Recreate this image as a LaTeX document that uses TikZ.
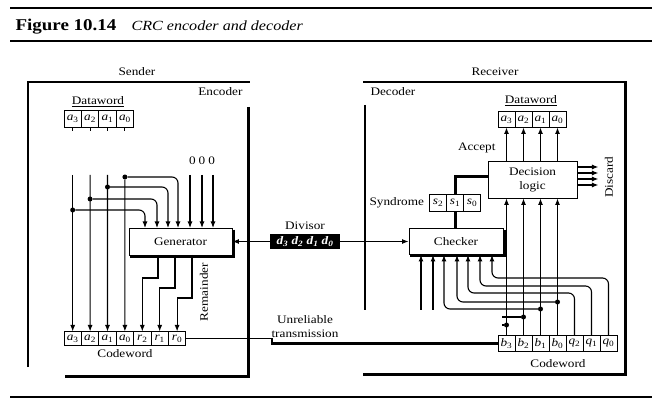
\documentclass[tikz,border=0pt]{standalone}
\usepackage{fontspec}
\setmainfont{Liberation Serif}[FakeStretch=1.15]
\usetikzlibrary{arrows.meta,positioning}
\newcommand{\cw}[2]{\textit{#1}\textsubscript{#2}}

\begin{document}
\begin{tikzpicture}[x=1pt,y=-1pt,font=\fontsize{11.5}{14}\selectfont,
  cell/.style={draw,line width=.8pt,minimum width=17pt,minimum height=16pt,inner sep=0pt,outer sep=0pt},
  unit/.style={draw,line width=.9pt,fill=white,align=center},
  drop/.style={line width=2.2pt},
  arr/.style={-{Latex[length=6.5pt,width=5pt]},line width=1.1pt},
  wire/.style={line width=1.1pt},
  heavy/.style={line width=3pt},
  rule/.style={line width=1.2pt},
  dot/.style={circle,fill,inner sep=0pt,minimum size=5pt}]
\useasboundingbox[fill=white] (0,0) rectangle (664,403);
% title and rules
\node[anchor=base west,font=\fontsize{16.5}{19}\selectfont\bfseries] (fig) at (12,31) {Figure 10.14};
\node[anchor=base west,font=\fontsize{14}{17}\selectfont\itshape] (cap) at (128,31) {CRC encoder and decoder};
\draw[rule] (10,8) -- (652,8);
\draw[rule] (10,41) -- (652,41);
\draw[rule] (10,397) -- (652,397);

% sender side
\node (sender) at (137,72) {Sender};
\node[anchor=east] (encoder) at (246,92) {Encoder};
\draw[wire] (28,367) -- (28,82) -- (250,82);
\draw[heavy] (248,107) -- (248,376) -- (65,376);

\node (sdw) at (98,102) {\underline{Dataword}};
\node[cell,minimum width=17.4pt,minimum height=17pt] (da3) at (72.7,119) {\cw{a}{3}};
\node[cell,minimum width=17.4pt,minimum height=17pt,right=0pt of da3] (da2) {\cw{a}{2}};
\node[cell,minimum width=17.4pt,minimum height=17pt,right=0pt of da2] (da1) {\cw{a}{1}};
\node[cell,minimum width=17.4pt,minimum height=17pt,right=0pt of da1] (da0) {\cw{a}{0}};
\foreach \c in {da3,da2,da1,da0} \draw[wire] (\c.south) -- ++(0,4);

\node[unit,minimum width=103pt,minimum height=27pt] (gen) at (180.5,241.5) {Generator};
\draw[drop] ([xshift=1pt,yshift=-2pt]gen.north east) -- ([xshift=1pt,yshift=-1pt]gen.south east) -- ([xshift=1pt,yshift=-1pt]gen.south west);

\node[cell,minimum width=17.4pt,minimum height=14pt] (ca3) at (72.7,338.5) {\cw{a}{3}};
\node[cell,minimum width=17.4pt,minimum height=14pt,right=0pt of ca3] (ca2) {\cw{a}{2}};
\node[cell,minimum width=17.4pt,minimum height=14pt,right=0pt of ca2] (ca1) {\cw{a}{1}};
\node[cell,minimum width=17.4pt,minimum height=14pt,right=0pt of ca1] (ca0) {\cw{a}{0}};
\node[cell,minimum width=17.4pt,minimum height=14pt,right=0pt of ca0] (cr2) {\cw{r}{2}};
\node[cell,minimum width=17.4pt,minimum height=14pt,right=0pt of cr2] (cr1) {\cw{r}{1}};
\node[cell,minimum width=17.4pt,minimum height=14pt,right=0pt of cr1] (cr0) {\cw{r}{0}};
\node (scw) at (125,354) {Codeword};

% dataword bits into codeword and generator
\coordinate (ta3) at (72.7,175);
\coordinate (ta2) at (90.1,175);
\coordinate (ta1) at (107.5,175);
\node[dot] (ja0) at (124.9,177) {};
\node[dot] (ja1) at (107.5,187) {};
\node[dot] (ja2) at (90.1,199) {};
\node[dot] (ja3) at (72.7,210) {};
\draw[arr] (ta3) -- (ca3);
\draw[arr] (ta2) -- (ca2);
\draw[arr] (ta1) -- (ca1);
\draw[arr] (ja0) -- (ca0);
\coordinate (gi1) at (145,228);
\coordinate (gi2) at (157,228);
\coordinate (gi3) at (168,228);
\coordinate (gi4) at (178,228);
\coordinate (gi5) at (190,228);
\coordinate (gi6) at (202,228);
\coordinate (gi7) at (213,228);
\draw[arr,rounded corners=6pt] (ja3) -| (gi1);
\draw[arr,rounded corners=6pt] (ja2) -| (gi2);
\draw[arr,rounded corners=6pt] (ja1) -| (gi3);
\draw[arr,rounded corners=6pt] (ja0) -| (gi4);
\node (zeros) at (202,161) {0\hspace{3pt}0\hspace{3pt}0};
\draw[arr] (gi5 |- ta3) -- (gi5);
\draw[arr] (gi6 |- ta3) -- (gi6);
\draw[arr] (gi7 |- ta3) -- (gi7);

% remainder
\coordinate (go1) at (158,255);
\coordinate (go2) at (175,255);
\coordinate (go3) at (192,255);
\draw[arr] (go1) -- ++(0,23) -| (cr2);
\draw[arr] (go2) -- ++(0,33) -| (cr1);
\draw[arr] (go3) -- ++(0,43) -| (cr0);
\node[rotate=90] (rem) at (204,292) {Remainder};

% divisor and channel
\node[fill=black,text=white,font=\fontsize{11.5}{14}\selectfont\bfseries\itshape,minimum width=70pt,minimum height=15pt,inner sep=1pt] (div) at (305,241.5) {\cw{d}{3} \cw{d}{2} \cw{d}{1} \cw{d}{0}};
\node[above=1pt of div] (divl) {Divisor};
\node[align=center] (unrel) at (305,327) {Unreliable\\transmission};

% receiver side
\node (receiver) at (495,72) {Receiver};
\node[anchor=west] (decoder) at (367,92) {Decoder};
\draw[wire] (363,82) -- (627,82);
\draw[wire] (365,105) -- (365,310);
\draw[heavy] (625,82) -- (625,374) -- (363,374);

\node[unit,minimum width=94pt,minimum height=26pt] (chk) at (456,241.5) {Checker};
\draw[drop] ([xshift=1pt,yshift=-2pt]chk.north east) -- ([xshift=1pt,yshift=-1pt]chk.south east) -- ([xshift=1pt,yshift=-1pt]chk.south west);
\node[unit,minimum width=89pt,minimum height=37pt] (dec) at (532.5,179.5) {Decision\\logic};

\node (rdw) at (531,101) {\underline{Dataword}};
\node[cell] (ra3) at (506.5,119.5) {\cw{a}{3}};
\node[cell,right=0pt of ra3] (ra2) {\cw{a}{2}};
\node[cell,right=0pt of ra2] (ra1) {\cw{a}{1}};
\node[cell,right=0pt of ra1] (ra0) {\cw{a}{0}};
\node[anchor=east] (acc) at (499,148) {Accept};

\node[cell,minimum height=17pt] (ss2) at (438,202.5) {\cw{s}{2}};
\node[cell,minimum height=17pt,right=0pt of ss2] (ss1) {\cw{s}{1}};
\node[cell,minimum height=17pt,right=0pt of ss1] (ss0) {\cw{s}{0}};
\node[left=2pt of ss2] (synd) {Syndrome};

\node[cell] (cb3) at (506.5,343.5) {\cw{b}{3}};
\node[cell,right=0pt of cb3] (cb2) {\cw{b}{2}};
\node[cell,right=0pt of cb2] (cb1) {\cw{b}{1}};
\node[cell,right=0pt of cb1] (cb0) {\cw{b}{0}};
\node[cell,right=0pt of cb0] (cq2) {\cw{q}{2}};
\node[cell,right=0pt of cq2] (cq1) {\cw{q}{1}};
\node[cell,right=0pt of cq1] (cq0) {\cw{q}{0}};
\node (rcw) at (558,364) {Codeword};

% connections
\draw[arr] (div) -- (gen);
\draw[arr] (div) -- (chk);
\coordinate (tx) at (272,338.5);
\draw[wire] (cr0) -- (tx);
\draw[line width=2.5pt] (tx) |- (cb3);

\draw[heavy] (chk.north -| ss1) -- (ss1);
\draw[heavy] (ss1) |- ([yshift=3pt]dec.west);

\foreach \c in {ra3,ra2,ra1,ra0} \draw[arr] (dec.north -| \c) -- (\c);
\draw[arr] ([yshift=12.5pt]dec.east) -- ++(21,0);
\draw[arr] ([yshift=6.5pt]dec.east) -- ++(21,0);
\draw[arr] ([yshift=0.5pt]dec.east) -- ++(21,0);
\draw[arr] ([yshift=-5.5pt]dec.east) -- ++(21,0);
\node[rotate=90] (disc) at (609,177) {Discard};

\foreach \c in {cb3,cb2,cb1,cb0} \draw[arr] (\c) -- (\c |- dec.south);
\node[dot] (jb3) at (506.5,325) {};
\node[dot] (jb2) at (523.5,317) {};
\node[dot] (jb1) at (540.5,309) {};
\node[dot] (jb0) at (557.5,302) {};
\coordinate (ci1) at (421,255);
\coordinate (ci2) at (433,255);
\coordinate (ci3) at (444,255);
\coordinate (ci4) at (457,255);
\coordinate (ci5) at (468,255);
\coordinate (ci6) at (480,255);
\coordinate (ci7) at (492,255);
\coordinate (li1) at (421,310);
\coordinate (li2) at (433,310);
\coordinate (sb3) at (502,325);
\coordinate (sb2) at (502,317);
\coordinate (hq2) at (468,293);
\coordinate (hq1) at (480,286);
\coordinate (hq0) at (492,278);
\draw[arr] (li1) -- (ci1);
\draw[arr] (li2) -- (ci2);
\draw[wire] (jb3) -- (sb3);
\draw[wire] (jb2) -- (sb2);
\draw[arr,rounded corners=6pt] (jb1) -| (ci3);
\draw[arr,rounded corners=6pt] (jb0) -| (ci4);
\draw[arr,rounded corners=6pt] (cq2) |- (hq2) -- (ci5);
\draw[arr,rounded corners=6pt] (cq1) |- (hq1) -- (ci6);
\draw[arr,rounded corners=6pt] (cq0) |- (hq0) -- (ci7);
\end{tikzpicture}
\end{document}
